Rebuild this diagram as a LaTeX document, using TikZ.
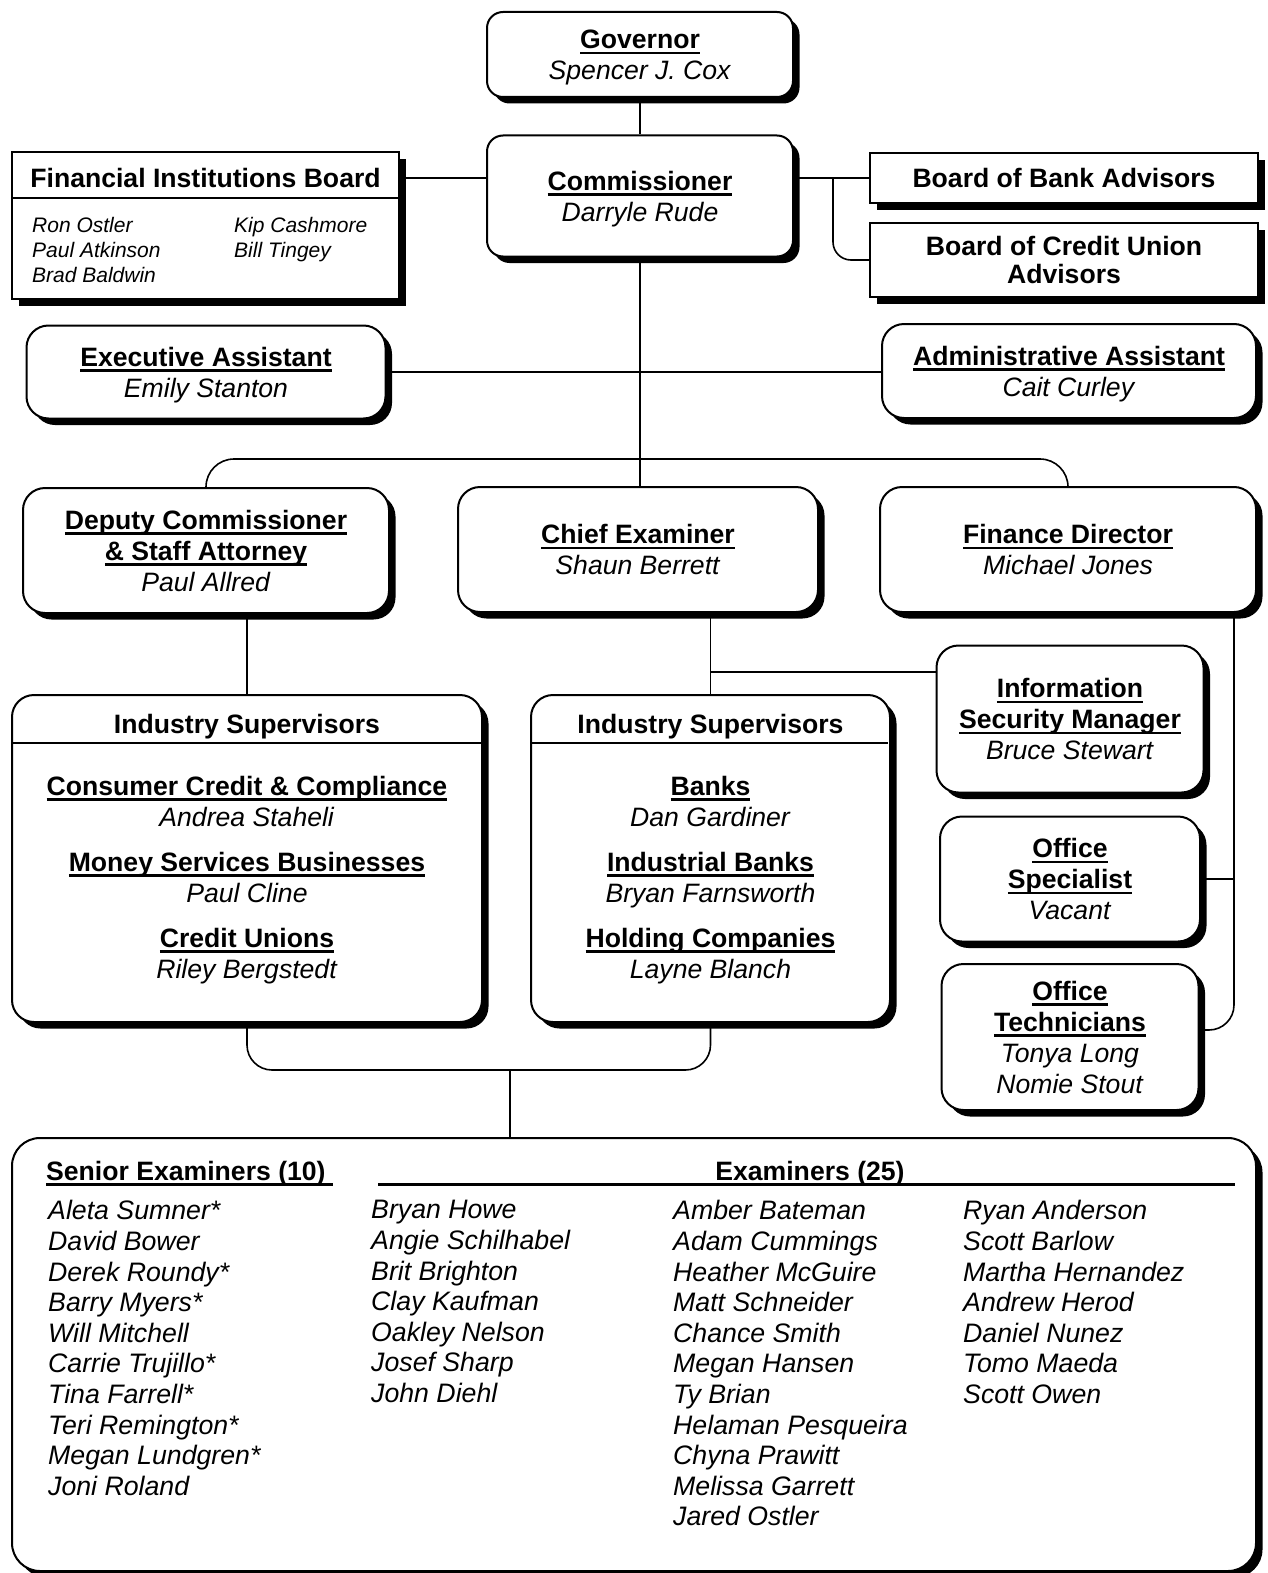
\documentclass[tikz,border=0pt]{standalone}
\usepackage{fontspec}
\setmainfont{Liberation Sans}
\usetikzlibrary{shadows}

\newcommand{\hdr}[1]{\setbox0\hbox{\bfseries #1}\rlap{\rule[-5.6pt]{\wd0}{2.3pt}}\box0}

\begin{document}
\begin{tikzpicture}[x=1pt, y=-1pt,
  every node/.style={font=\fontsize{26.6pt}{31pt}\selectfont, inner sep=0pt},
  rbox/.style={draw, line width=2pt, fill=white, rounded corners=#1, align=center, text depth=0pt,
    drop shadow={shadow xshift=6.5pt, shadow yshift=-6.5pt, fill=black, opacity=1}},
  rbox/.default=22pt,
  sbox/.style={draw, line width=2pt, fill=white, align=center, text depth=0pt,
    drop shadow={shadow xshift=7pt, shadow yshift=-7pt, fill=black, opacity=1}},
  conn/.style={line width=1.6pt},
  bld/.style={font=\fontsize{26.6pt}{31pt}\selectfont\bfseries},
  lst/.style={anchor=north west, align=left, font=\fontsize{26.7pt}{30.6pt}\selectfont\itshape}]
  \useasboundingbox (0,0) rectangle (1267,1573);
  \clip (0,0) rectangle (1267,1573);

  % top
  \node[rbox=16pt, minimum width=306, minimum height=85] (gov) at (640,54.5)
    {\hdr{Governor}\\\textit{Spencer J. Cox}};
  \node[rbox=16pt, minimum width=306, minimum height=121] (com) at (640,196)
    {\hdr{Commissioner}\\\textit{Darryle Rude}};

  % boards
  \node[sbox, minimum width=387, minimum height=147] (fib) at (205.5,225.5) {};
  \node[bld, anchor=base] (fibhd) at (205.5,187) {Financial Institutions Board};
  \draw[line width=2pt] (12,198) -- (399,198);
  \node[anchor=north west, align=left, font=\fontsize{21pt}{25pt}\selectfont\itshape] (fibl) at (32,216.7)
    {Ron Ostler\\Paul Atkinson\\Brad Baldwin};
  \node[anchor=north west, align=left, font=\fontsize{21pt}{25pt}\selectfont\itshape] (fibr) at (234,216.7)
    {Kip Cashmore\\Bill Tingey};
  \node[sbox, minimum width=388, minimum height=50] (bba) at (1064,178)
    {\textbf{Board of Bank Advisors}};
  \node[sbox, minimum width=388, minimum height=74, font=\fontsize{26.6pt}{28pt}\selectfont] (bcua) at (1064,260)
    {\textbf{Board of Credit Union}\\\textbf{Advisors}};

  % assistants
  \node[rbox, minimum width=359, minimum height=93] (ea) at (206,372)
    {\hdr{Executive Assistant}\\\textit{Emily Stanton}};
  \node[rbox, minimum width=374, minimum height=94] (aa) at (1069,371)
    {\hdr{Administrative Assistant}\\\textit{Cait Curley}};

  % second row
  \node[rbox, minimum width=366, minimum height=125] (dep) at (206,550.5)
    {\hdr{Deputy Commissioner}\\\hdr{\& Staff Attorney}\\\textit{Paul Allred}};
  \node[rbox, minimum width=360, minimum height=125] (chief) at (638,549.5)
    {\hdr{Chief Examiner}\\\textit{Shaun Berrett}};
  \node[rbox, minimum width=376, minimum height=125] (fin) at (1068,549.5)
    {\hdr{Finance Director}\\\textit{Michael Jones}};

  % industry supervisors
  \node[rbox, minimum width=470, minimum height=327] (is1) at (247,858.5) {};
  \node[bld, anchor=base] (is1hd) at (247,733) {Industry Supervisors};
  \draw[line width=2pt] (12,743) -- (482,743);
  \node[align=center, text depth=0pt] (is1c) at (247,877)
    {\hdr{Consumer Credit \& Compliance}\\\textit{Andrea Staheli}\\[14pt]
     \hdr{Money Services Businesses}\\\textit{Paul Cline}\\[14pt]
     \hdr{Credit Unions}\\\textit{Riley Bergstedt}};
  \node[rbox, minimum width=359, minimum height=327] (is2) at (710.5,858.5) {};
  \node[bld, anchor=base] (is2hd) at (710.5,733) {Industry Supervisors};
  \draw[line width=2pt] (531,743) -- (888,743);
  \node[align=center, text depth=0pt] (is2c) at (710.5,877)
    {\hdr{Banks}\\\textit{Dan Gardiner}\\[14pt]
     \hdr{Industrial Banks}\\\textit{Bryan Farnsworth}\\[14pt]
     \hdr{Holding Companies}\\\textit{Layne Blanch}};

  % staff on the right
  \node[rbox, minimum width=267, minimum height=147] (info) at (1070,719)
    {\hdr{Information}\\\hdr{Security Manager}\\\textit{Bruce Stewart}};
  \node[rbox, minimum width=260, minimum height=125] (os) at (1070,879)
    {\hdr{Office}\\\hdr{Specialist}\\\textit{Vacant}};
  \node[rbox, minimum width=257, minimum height=146] (ot) at (1070,1037)
    {\hdr{Office}\\\hdr{Technicians}\\\textit{Tonya Long}\\\textit{Nomie Stout}};

  % examiners
  \node[rbox=28pt, minimum width=1244, minimum height=433] (exa) at (634,1354.5) {};
  \node[anchor=base west] (sehd) at (46,1180) {\hdr{Senior Examiners (10)\ }};
  \node[bld, anchor=base] (exhd) at (810,1180) {Examiners (25)};
  \draw[line width=2.3pt] (378,1184.5) -- (1235,1184.5);
  \node[lst] (sen) at (48,1200.3)
    {Aleta Sumner*\\David Bower\\Derek Roundy*\\Barry Myers*\\Will Mitchell\\
     Carrie Trujillo*\\Tina Farrell*\\Teri Remington*\\Megan Lundgren*\\Joni Roland};
  \node[lst] (exl) at (371,1200.3)
    {Bryan Howe\\Angie Schilhabel\\Brit Brighton\\Clay Kaufman\\Oakley Nelson\\
     Josef Sharp\\John Diehl};
  \node[lst] (exm) at (673,1200.3)
    {Amber Bateman\\Adam Cummings\\Heather McGuire\\Matt Schneider\\Chance Smith\\
     Megan Hansen\\Ty Brian\\Helaman Pesqueira\\Chyna Prawitt\\Melissa Garrett\\Jared Ostler};
  \node[lst] (exr) at (963,1200.3)
    {Ryan Anderson\\Scott Barlow\\Martha Hernandez\\Andrew Herod\\Daniel Nunez\\
     Tomo Maeda\\Scott Owen};

  % connectors
  \coordinate (bj) at (833,260);
  \coordinate (tj) at (640,459);
  \coordinate (ij) at (710.5,672);
  \coordinate (rj) at (1234,1030);
  \coordinate (lj) at (510,1070);
  \draw[conn] (gov.south) -- (com.north);
  \draw[conn] (fib.east |- bba.west) -- (com.west |- bba.west);
  \draw[conn] (com.east |- bba.west) -- (bba.west);
  \draw[conn, rounded corners=18pt] (bj |- bba.west) -- (bj) -- (bcua.west);
  \draw[conn] (com.south) -- (com.south |- chief.north);
  \draw[conn] (ea.east) -- (ea.east -| aa.west);
  \draw[conn, rounded corners=28pt] (dep.north) -- (dep.north |- tj) -- (fin.north |- tj) -- (fin.north);
  \draw[conn] (is1.north |- dep.south) -- (is1.north);
  \draw[conn] (is2.north |- chief.south) -- (is2.north);
  \draw[conn] (ij) -- (info.west |- ij);
  \draw[conn, rounded corners=25pt] (rj |- fin.south) -- (rj) -- (ot.east |- rj);
  \draw[conn] (os.east) -- (os.east -| rj);
  \draw[conn, rounded corners=25pt] (is1.south) -- (is1.south |- lj) -- (is2.south |- lj) -- (is2.south);
  \draw[conn] (lj) -- (exa.north -| lj);
\end{tikzpicture}
\end{document}
